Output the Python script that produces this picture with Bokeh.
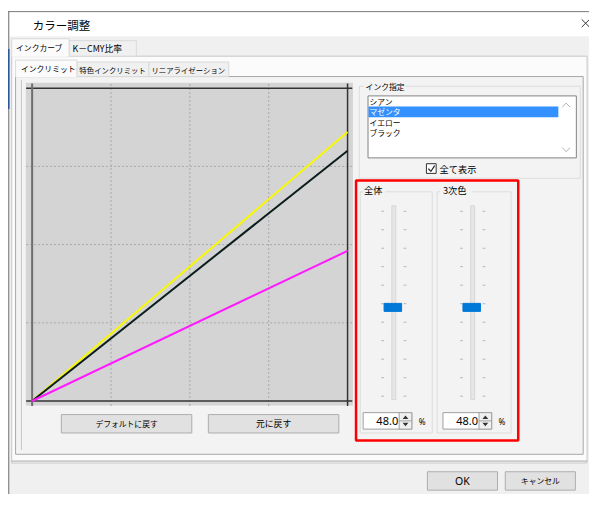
from bokeh.plotting import figure
from bokeh.models import Range1d
from bokeh.core.properties import value
from bokeh.embed import file_html
from bokeh.resources import INLINE

# ---------------- data ----------------
ink_x = [0, 100]
yellow_y = [0, 86]
black_y = [0, 80]
magenta_y = [0, 48]
grid_ticks = [25, 50, 75]
list_items = ["シアン", "マゼンタ", "イエロー", "ブラック"]
selected_item = "マゼンタ"
slider_labels = ["全体", "3次色"]
slider_values = [48.0, 48.0]
slider_ticks = [0, 10, 20, 30, 40, 50, 60, 70, 80, 90, 100]
outer_tabs = ["インクカーブ", "K－CMY比率"]
inner_tabs = ["インクリミット", "特色インクリミット", "リニアライゼーション"]

# ---------------- page geometry ----------------
W, H = 589, 494          # figure size (fits the 605x510 window with 8px margins)
RW, RH = 605, 510        # layout coordinate space
SX, SY = W / RW, H / RH
JP = "Noto Sans CJK JP"
LAT = "Noto Sans"

p = figure(width=W, height=H, x_range=Range1d(0, RW), y_range=Range1d(RH, 0),
           output_backend="svg", toolbar_location=None, x_axis_type=None, y_axis_type=None,
           min_border=0)
p.outline_line_color = None
p.background_fill_color = "white"
p.border_fill_color = "white"


def xr(p0, p1, v0, v1):
    f0, f1 = p0 * SX, p1 * SX
    s = (f1 - f0) / (v1 - v0)
    start = v0 - f0 / s
    return Range1d(start, start + W / s)


def yr(p0, p1, v0, v1):
    f0, f1 = p0 * SY, p1 * SY
    s = (f0 - f1) / (v1 - v0)
    end = v1 + f1 / s
    return Range1d(end - H / s, end)


p.extra_x_ranges = {"ink": xr(32.5, 356.5, 0, 100)}
p.extra_y_ranges = {"ink": yr(413.5, 90.5, 0, 100), "sl": yr(408.5, 217.5, 0, 100)}


def box(l, r, t, b, fill=None, line=None, lw=1.0):
    p.quad(left=[l], right=[r], top=[t], bottom=[b], fill_color=fill,
           line_color=line, line_width=lw)


def hline(x0, x1, y, color, lw=1.0):
    p.segment(x0=[x0], y0=[y], x1=[x1], y1=[y], line_color=color, line_width=lw)


def vline(x, y0, y1, color, lw=1.0):
    p.segment(x0=[x], y0=[y0], x1=[x], y1=[y1], line_color=color, line_width=lw)


def txt(x, y, s, size="8px", font=JP, align="left", color="#000000"):
    p.text(x=[x], y=[y], text=[s], text_font=value(font), text_font_size=size,
           text_align=align, text_baseline="middle", text_color=color)


# ---------------- window ----------------
box(9, 610, 37, 520, "#f0f0f0", None)
hline(8, 605, 11.5, "#7a7a7a")
vline(8.5, 11, 510, "#6a6a6a")
vline(8.5, 50, 112, "#2b579a", 1.5)
txt(33, 25, "カラー調整", "11.5px")
p.segment(x0=[597, 597], y0=[19.5, 27.5], x1=[605, 605], y1=[27.5, 19.5],
          line_color="#333333", line_width=1)

# outer tab control
box(11.5, 602.5, 57.5, 477.5, "#fbfbfb", "#c8c8c8")
hline(11.5, 602.5, 475.5, "#a8a8a8")
box(70.5, 139.5, 41.5, 57.5, "#f0f0f0", "#d9d9d9")
txt(74, 49.5, outer_tabs[1], "8.8px")
box(11.5, 70.5, 39.5, 58, "#fbfbfb", "#d9d9d9")
hline(12, 70, 57.5, "#fbfbfb", 1.2)
txt(16, 48.5, outer_tabs[0], "7.8px")

# inner tab control
box(15.5, 598.5, 78.5, 468.5, "#f3f3f3", "#a8a8a8")
box(78.5, 152.5, 63.5, 78.5, "#f0f0f0", "#d9d9d9")
box(152.5, 234.5, 63.5, 78.5, "#f0f0f0", "#d9d9d9")
txt(81, 71.5, inner_tabs[1], "7.4px")
txt(155, 71.5, inner_tabs[2], "7.4px")
box(15.5, 78.5, 61.5, 79, "#fbfbfb", "#d9d9d9")
hline(16, 78, 78.5, "#fbfbfb", 1.2)
txt(21, 70.5, inner_tabs[0], "7.8px")
vline(21.5, 82, 464, "#c6c6c6")

# ---------------- chart ----------------
box(26, 362, 85, 418, "#d4d4d4", None)
R = dict(x_range_name="ink", y_range_name="ink")
p.segment(x0=grid_ticks, y0=[-1.6] * 3, x1=grid_ticks, y1=[101.5] * 3,
          line_color="#a8a8a8", line_width=1, line_dash="2 2", **R)
p.segment(x0=[-1.9] * 3, y0=grid_ticks, x1=[101.5] * 3, y1=grid_ticks,
          line_color="#a8a8a8", line_width=1, line_dash="2 2", **R)
p.segment(x0=[-1.9, -1.9, 100], y0=[0, 100, -1.6], x1=[101.5, 101.5, 100],
          y1=[0, 100, 101.5], line_color="#333333", line_width=1.5, **R)
p.segment(x0=[0], y0=[-1.6], x1=[0], y1=[101.5], line_color="#6e6e6e", line_width=2, **R)
p.line(ink_x, yellow_y, line_color="#f8f800", line_width=2, **R)
p.line(ink_x, black_y, line_color="#0a1c1c", line_width=2, **R)
p.line(ink_x, magenta_y, line_color="#ff1aff", line_width=2, **R)

# buttons under chart
box(62.5, 196.5, 427.5, 446.5, "#e1e1e1", "#adadad")
txt(129.5, 437, "デフォルトに戻す", "7.8px", align="center")
box(213.5, 347.5, 427.5, 446.5, "#e1e1e1", "#adadad")
txt(280.5, 437, "元に戻す", "8.8px", align="center")

# ---------------- ink selection group ----------------
box(368.5, 595.5, 88.5, 183.5, None, "#dcdcdc")
box(373, 416, 83, 94, "#f3f3f3", None)
txt(375, 88.5, "インク指定", "7.8px")
box(377.5, 591.5, 98.5, 162.5, "#ffffff", "#828282")
for i, item in enumerate(list_items):
    yy = 104.5 + i * 10.5
    if item == selected_item:
        box(378, 573, yy - 5.5, yy + 5.5, "#3390ff", None)
        txt(379, yy, item, "7.8px", color="#ffffff")
    else:
        txt(379, yy, item, "7.8px")
p.line([577, 581, 585], [110, 106, 110], line_color="#b0b0b0", line_width=1)
p.line([577, 581, 585], [152, 156, 152], line_color="#b0b0b0", line_width=1)
box(437.5, 447.5, 168.5, 178.5, "#ffffff", "#333333")
p.line([439.5, 442, 446], [173.5, 176.5, 170.5], line_color="#222222", line_width=1.2)
txt(451, 173.5, "全て表示", "9.2px")

# ---------------- sliders ----------------
box(365.2, 531.8, 185.8, 454.2, None, "#ff0000", 2.5)
group_left = [369.5, 448.5]
group_right = [443.5, 524.5]
track_x = [404, 485]
spin_left = [372.5, 454.5]
for k in range(2):
    gl, gr, tx, sl = group_left[k], group_right[k], track_x[k], spin_left[k]
    box(gl, gr, 197.5, 446.5, None, "#dcdcdc")
    box(gl + 3, gl + 6 + 10 * len(slider_labels[k]), 190, 203, "#f3f3f3", None)
    txt(gl + 4 + (2 if k else 0), 196, slider_labels[k], "9.2px")
    box(tx - 2, tx + 2, 212, 412, "#e6e6e6", "#d6d6d6")
    p.rect(x=[tx - 11.5] * len(slider_ticks), y=slider_ticks, width=3, height=1,
           height_units="screen", fill_color="#b8b8b8", line_color=None, y_range_name="sl")
    p.rect(x=[tx + 11.5] * len(slider_ticks), y=slider_ticks, width=3, height=1,
           height_units="screen", fill_color="#b8b8b8", line_color=None, y_range_name="sl")
    p.rect(x=[tx - 1], y=[slider_values[k]], width=18, height=8, height_units="screen",
           fill_color="#0078d7", line_color="#0078d7", y_range_name="sl")
    box(sl, sl + 50, 425.5, 442.5, "#ffffff", "#a0a0a0")
    box(sl + 37, sl + 50, 425.5, 442.5, "#f0f0f0", "#a0a0a0")
    hline(sl + 37, sl + 50, 434, "#a0a0a0")
    p.patch([sl + 40.5, sl + 43.5, sl + 46.5], [432, 428.5, 432], fill_color="#333333", line_color=None)
    p.patch([sl + 40.5, sl + 43.5, sl + 46.5], [436, 439.5, 436], fill_color="#333333", line_color=None)
    txt(sl + 36, 434.5, f"{slider_values[k]:.1f}", "11px", font=LAT, align="right")
    txt(sl + 57, 434.5, "%", "8.2px", font=LAT)

# ---------------- dialog buttons ----------------
box(438.5, 510.5, 486.5, 505.5, "#e1e1e1", "#adadad")
txt(474.5, 496, "OK", "10.5px", font=LAT, align="center")
box(518.5, 590.5, 486.5, 505.5, "#e1e1e1", "#adadad")
txt(554.5, 496, "キャンセル", "7.8px", align="center")

open("out.html", "w").write(file_html(p, INLINE))
